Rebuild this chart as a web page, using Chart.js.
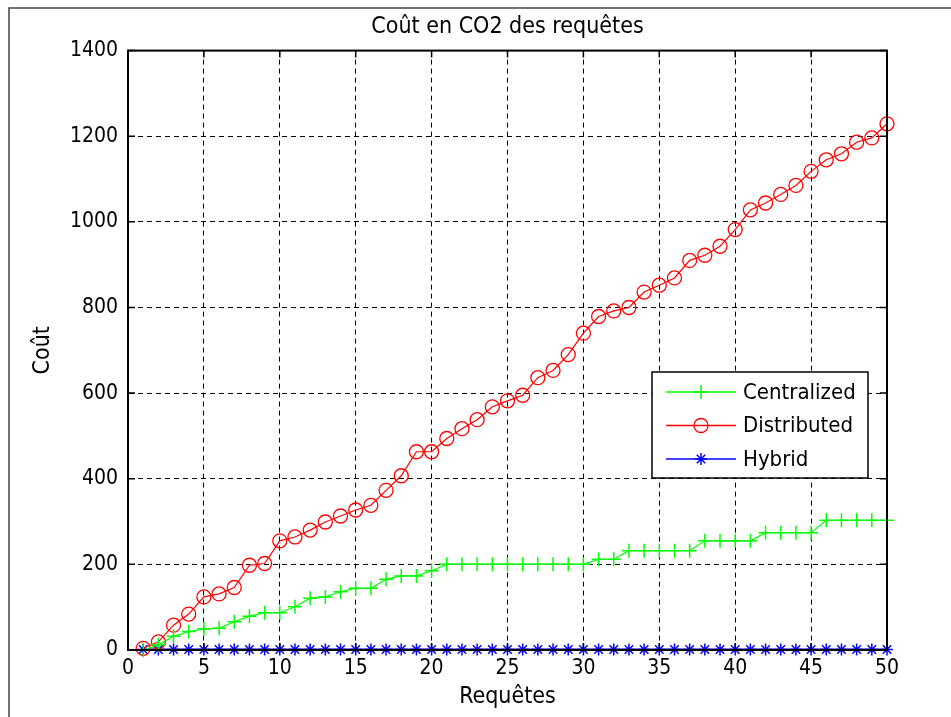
<!DOCTYPE html>
<html>
<head>
<meta charset="utf-8">
<title>Coût en CO2 des requêtes</title>
<script src="https://cdn.jsdelivr.net/npm/chart.js@4.4.1/dist/chart.umd.min.js"></script>
<style>
  html, body { margin: 0; padding: 0; background: #fff; }
  #wrap { width: 951px; height: 717px; position: relative; }
</style>
</head>
<body>
<div id="wrap"><canvas id="myChart" width="951" height="717"></canvas></div>
<script>
// data
const requetes = [1, 2, 3, 4, 5, 6, 7, 8, 9, 10, 11, 12, 13, 14, 15, 16, 17, 18, 19, 20,
  21, 22, 23, 24, 25, 26, 27, 28, 29, 30, 31, 32, 33, 34, 35, 36, 37, 38, 39, 40,
  41, 42, 43, 44, 45, 46, 47, 48, 49, 50];

const centralized = [0, 12, 32, 43, 49, 51, 66, 79, 87, 87,
  101, 121, 124, 136, 144, 144, 165, 173, 173, 185,
  200, 200, 200, 200, 200, 200, 200, 200, 200, 200,
  212, 212, 232, 232, 232, 232, 232, 255, 255, 255,
  255, 274, 274, 274, 274, 303, 303, 303, 303, 303];

const distributed = [4, 19, 58, 84, 124, 131, 146, 198, 202, 255,
  264, 280, 299, 313, 327, 338, 373, 407, 463, 463,
  494, 517, 538, 568, 582, 595, 636, 653, 690, 740,
  779, 792, 800, 836, 852, 869, 910, 922, 943, 982,
  1028, 1044, 1064, 1085, 1118, 1145, 1159, 1186, 1196, 1229];

const hybrid = [1, 1, 1, 1, 1, 1, 1, 1, 1, 1,
  1, 1, 1, 1, 1, 1, 1, 1, 1, 1,
  1, 1, 1, 1, 1, 1, 1, 1, 1, 1,
  1, 1, 1, 1, 1, 1, 1, 1, 1, 1,
  1, 1, 1, 1, 1, 1, 1, 1, 1, 1];

const seriesNames = ["Centralized", "Distributed", "Hybrid"];
const xRange = [0, 50];
const yRange = [0, 1400];

const FONT = "'Liberation Sans Narrow', 'DejaVu Sans Condensed', Arial, sans-serif";

function pts(vals) {
  return requetes.map(function (r, i) { return { x: r, y: vals[i] }; });
}

// outer figure frame + box round the axes + inward ticks (matlab style)
const matlabBox = {
  id: 'matlabBox',
  afterLayout: function (chart) {
    // matlab centres the title over the axes, not the whole figure
    if (chart.titleBlock) {
      chart.titleBlock.left = chart.chartArea.left;
      chart.titleBlock.right = chart.chartArea.right;
    }
  },
  beforeDraw: function (chart) {
    const c = chart.ctx;
    c.save();
    c.fillStyle = '#fff';
    c.fillRect(0, 0, chart.width, chart.height);
    c.strokeStyle = '#444';
    c.lineWidth = 1.5;
    c.strokeRect(9, 8, chart.width + 20, chart.height + 20);
    c.restore();
  },
  afterDraw: function (chart) {
    const c = chart.ctx, a = chart.chartArea;
    const xs = chart.scales.x, ys = chart.scales.y;
    c.save();
    c.strokeStyle = '#000';
    c.lineWidth = 1.5;
    c.beginPath();
    xs.ticks.forEach(function (t) {
      const px = xs.getPixelForValue(t.value);
      c.moveTo(px, a.bottom); c.lineTo(px, a.bottom - 7);
      c.moveTo(px, a.top); c.lineTo(px, a.top + 7);
    });
    ys.ticks.forEach(function (t) {
      const py = ys.getPixelForValue(t.value);
      c.moveTo(a.left, py); c.lineTo(a.left + 7, py);
      c.moveTo(a.right, py); c.lineTo(a.right - 7, py);
    });
    c.stroke();
    c.lineWidth = 2;
    c.strokeRect(a.left, a.top, a.right - a.left, a.bottom - a.top);
    c.restore();
  }
};

// legend box inside the axes
const boxLegend = {
  id: 'boxLegend',
  afterDraw: function (chart) {
    const c = chart.ctx;
    const x0 = 652, y0 = 372, w = 216, h = 106;
    c.save();
    c.fillStyle = '#fff';
    c.fillRect(x0, y0, w, h);
    c.strokeStyle = '#000';
    c.lineWidth = 1.5;
    c.strokeRect(x0, y0, w, h);
    chart.data.datasets.forEach(function (ds, i) {
      const yy = y0 + 20 + i * 33.5;
      c.save();
      c.strokeStyle = ds.borderColor;
      c.lineWidth = 1.5;
      c.beginPath();
      c.moveTo(x0 + 14, yy); c.lineTo(x0 + 84, yy);
      c.stroke();
      c.strokeStyle = ds.pointBorderColor;
      c.fillStyle = ds.pointBackgroundColor;
      c.lineWidth = ds.pointBorderWidth;
      Chart.helpers.drawPoint(c, {
        pointStyle: ds.pointStyle, radius: ds.pointRadius,
        borderWidth: ds.pointBorderWidth, rotation: 0
      }, x0 + 49, yy);
      c.restore();
      c.fillStyle = '#000';
      c.font = "22px " + FONT;
      c.textAlign = 'left';
      c.textBaseline = 'middle';
      c.fillText(ds.label, x0 + 91, yy + 1);
    });
    c.restore();
  }
};

const ctx = document.getElementById('myChart');
const chart = new Chart(ctx, {
  type: 'line',
  data: {
    datasets: [{
      label: seriesNames[0],
      data: pts(centralized),
      borderColor: '#00ff00',
      backgroundColor: '#00ff00',
      pointBackgroundColor: '#00ff00',
      pointBorderColor: '#00ff00',
      pointStyle: 'cross',
      pointRadius: 7,
      pointBorderWidth: 1.5,
      borderWidth: 1.2,
      clip: false
    }, {
      label: seriesNames[1],
      data: pts(distributed),
      borderColor: '#ff0000',
      backgroundColor: 'rgba(0,0,0,0)',
      pointBackgroundColor: 'rgba(0,0,0,0)',
      pointBorderColor: '#ff0000',
      pointStyle: 'circle',
      pointRadius: 7,
      pointBorderWidth: 1.3,
      borderWidth: 1.2,
      clip: false
    }, {
      label: seriesNames[2],
      data: pts(hybrid),
      borderColor: '#0000ff',
      backgroundColor: '#0000ff',
      pointBackgroundColor: '#0000ff',
      pointBorderColor: '#0000ff',
      pointStyle: 'star',
      pointRadius: 6,
      pointBorderWidth: 1.5,
      borderWidth: 2,
      clip: false
    }]
  },
  options: {
    responsive: false,
    animation: false,
    events: [],
    layout: { padding: { left: 0, top: 0, right: 64, bottom: 0 } },
    plugins: {
      legend: { display: false },
      tooltip: { enabled: false },
      title: {
        display: true,
        text: 'Coût en CO2 des requêtes',
        color: '#000',
        font: { family: FONT, size: 23, weight: 'normal' },
        padding: { top: 13, bottom: 10 }
      }
    },
    scales: {
      x: {
        type: 'linear',
        min: xRange[0],
        max: xRange[1],
        afterFit: function (s) { s.height = 67; },
        ticks: {
          stepSize: 5, color: '#000', padding: 6, font: { family: FONT, size: 21 },
          callback: function (v) { return String(v); }
        },
        grid: { color: '#000', lineWidth: 1, drawTicks: false },
        border: { display: true, color: '#000', width: 2, dash: [5, 4] },
        title: {
          display: true, text: 'Requêtes', color: '#000',
          font: { family: FONT, size: 23 }, padding: { top: 0, bottom: 6 }
        }
      },
      y: {
        min: yRange[0],
        max: yRange[1],
        afterFit: function (s) { s.width = 128; },
        ticks: {
          stepSize: 200, color: '#000', padding: 10, font: { family: FONT, size: 21 },
          callback: function (v) { return String(v); }
        },
        grid: { color: '#000', lineWidth: 1, drawTicks: false },
        border: { display: true, color: '#000', width: 2, dash: [5, 4] },
        title: {
          display: true, text: 'Coût', color: '#000',
          font: { family: FONT, size: 23 }, padding: { top: 29, bottom: 0 }
        }
      }
    }
  },
  plugins: [matlabBox, boxLegend]
});
</script>
</body>
</html>
